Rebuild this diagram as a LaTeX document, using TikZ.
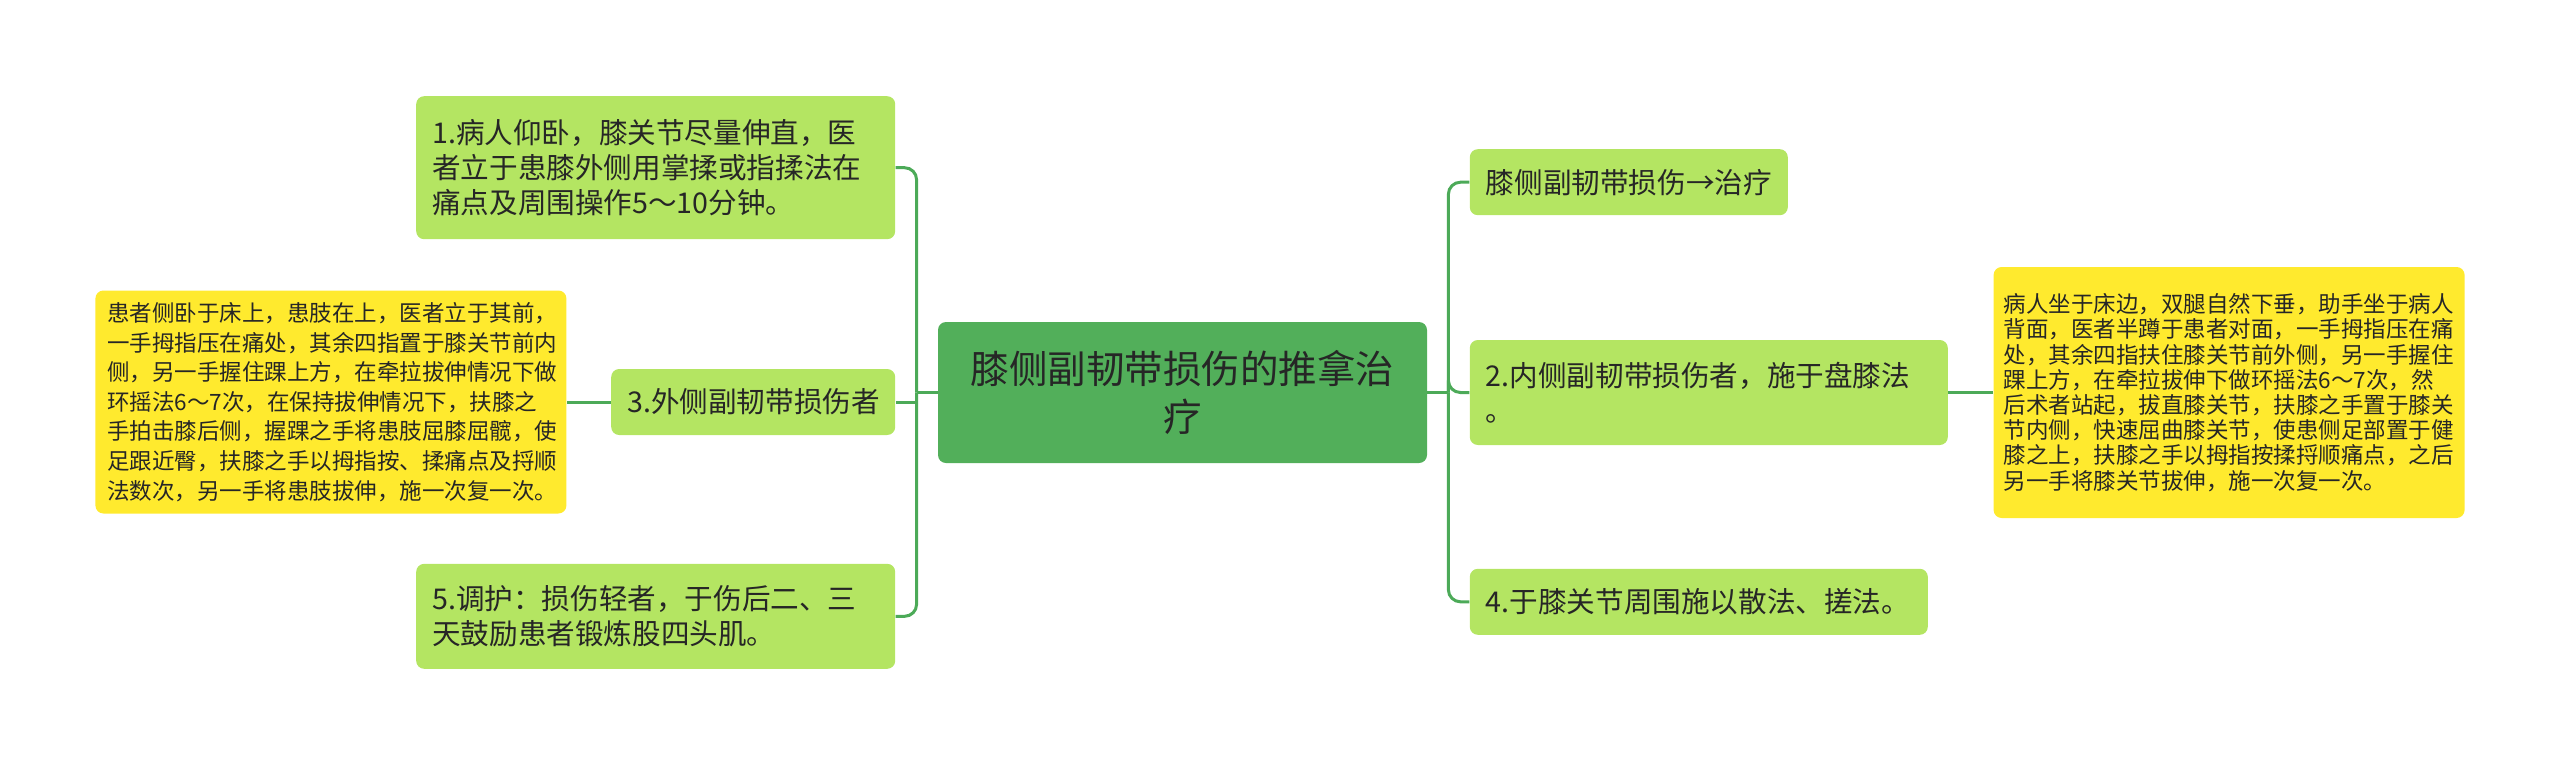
\documentclass[tikz,border=0pt]{standalone}
\usepackage{fontspec}
\setmainfont{Noto Sans CJK SC}
\usepackage{tikz}
\usetikzlibrary{positioning}

\definecolor{leafgreen}{RGB}{180,229,98}
\definecolor{rootgreen}{RGB}{82,175,90}
\definecolor{linkgreen}{RGB}{76,170,88}
\definecolor{noteyellow}{RGB}{255,234,46}
\definecolor{ink}{RGB}{38,38,38}

\tikzset{
  leaf/.style={fill=leafgreen, rounded corners=4pt, text=ink, align=left,
               inner xsep=8pt, inner ysep=0pt,
               font=\fontsize{14.3pt}{17.5pt}\selectfont},
  note/.style={fill=noteyellow, rounded corners=4pt, text=ink, align=left,
               inner ysep=0pt, font=\fontsize{11.25pt}{14.8pt}\selectfont},
  link/.style={draw=linkgreen, line width=1.5pt, rounded corners=6pt},
}

\begin{document}
\begin{tikzpicture}
	\useasboundingbox (0,0) rectangle (1280pt,-383pt);

	% root
	\node (root) [fill=rootgreen, rounded corners=4pt, text=ink, align=center,
	              minimum width=244.5pt, minimum height=70.5pt, inner sep=0pt,
	              font=\fontsize{19.25pt}{24pt}\selectfont]
	      at (591.25pt,-196.25pt) {膝侧副韧带损伤的推拿治\\疗};

	% right branch
	\node (r2) [leaf, right=21pt of root, text width=223pt, minimum height=52.5pt]
	      {2.内侧副韧带损伤者，施于盘膝法\\。};
	\node (r1) [leaf, above=62pt of r2.north west, anchor=south west,
	            text width=143pt, minimum height=33pt] {膝侧副韧带损伤→治疗};
	\node (r4) [leaf, below=61.5pt of r2.south west, anchor=north west,
	            text width=213pt, minimum height=33pt] {4.于膝关节周围施以散法、搓法。};
	\node (rnote) [note, right=22.5pt of r2, inner xsep=5pt, text width=225.5pt,
	               minimum height=125.5pt, font=\fontsize{11.25pt}{12.6pt}\selectfont]
	      {病人坐于床边，双腿自然下垂，助手坐于病人\\
	       背面，医者半蹲于患者对面，一手拇指压在痛\\
	       处，其余四指扶住膝关节前外侧，另一手握住\\
	       踝上方，在牵拉拔伸下做环摇法6～7次，然\\
	       后术者站起，拔直膝关节，扶膝之手置于膝关\\
	       节内侧，快速屈曲膝关节，使患侧足部置于健\\
	       膝之上，扶膝之手以拇指按揉捋顺痛点，之后\\
	       另一手将膝关节拔伸，施一次复一次。};

	% left branch
	\node (l3) [leaf, left=21pt of root, yshift=-4.75pt, text width=126pt,
	            minimum height=33pt] {3.外侧副韧带损伤者};
	\node (l1) [leaf, above=64.5pt of l3.north east, anchor=south east,
	            text width=223.5pt, minimum height=71.5pt]
	      {1.病人仰卧，膝关节尽量伸直，医\\
	       者立于患膝外侧用掌揉或指揉法在\\
	       痛点及周围操作5～10分钟。};
	\node (l5) [leaf, below=64pt of l3.south east, anchor=north east,
	            text width=223.5pt, minimum height=52.5pt]
	      {5.调护：损伤轻者，于伤后二、三\\天鼓励患者锻炼股四头肌。};
	\node (lnote) [note, left=22pt of l3, inner xsep=6pt, text width=223.5pt,
	               minimum height=111.5pt]
	      {患者侧卧于床上，患肢在上，医者立于其前，\\
	       一手拇指压在痛处，其余四指置于膝关节前内\\
	       侧，另一手握住踝上方，在牵拉拔伸情况下做\\
	       环摇法6～7次，在保持拔伸情况下，扶膝之\\
	       手拍击膝后侧，握踝之手将患肢屈膝屈髋，使\\
	       足跟近臀，扶膝之手以拇指按、揉痛点及捋顺\\
	       法数次，另一手将患肢拔伸，施一次复一次。};

	% connectors
	\coordinate (lj) at ([xshift=-10.5pt]root.west);
	\coordinate (rj) at ([xshift=10.5pt]root.east);
	\draw[link] (root.west) -- (lj);
	\foreach \n in {l1,l5}
		\draw[link] (lj) |- (\n.east);
	\draw[link, sharp corners] (lj) |- (l3.east);
	\draw[link] (root.east) -- (rj);
	\foreach \n in {r1,r2,r4}
		\draw[link] (rj) |- (\n.west);
	\draw[link] (l3.west) -- (lnote.east);
	\draw[link] (r2.east) -- (rnote.west);
\end{tikzpicture}
\end{document}
